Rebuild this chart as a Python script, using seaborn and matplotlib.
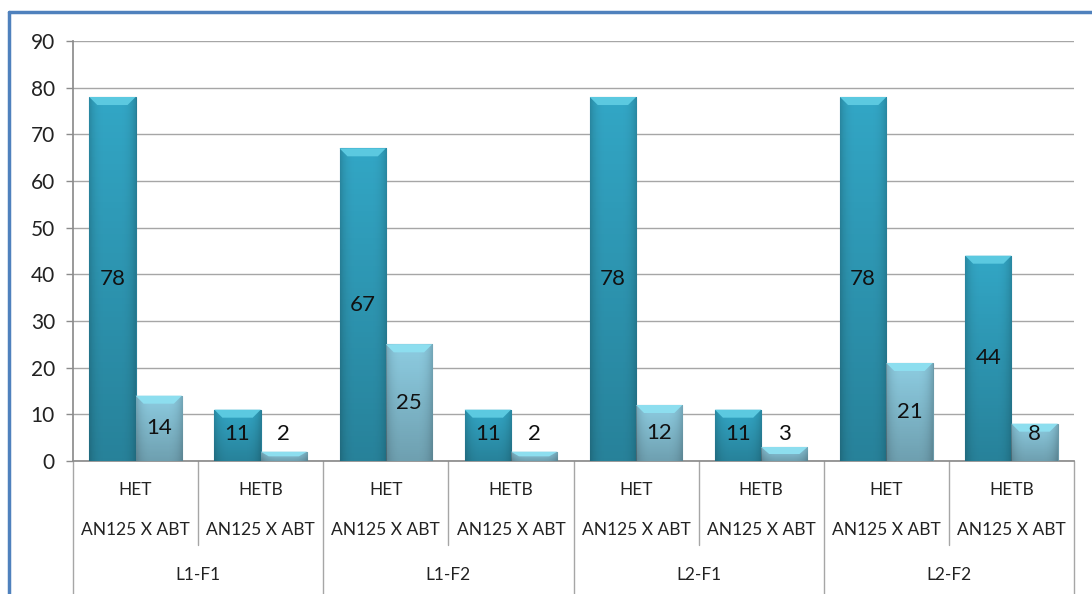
import numpy as np
import pandas as pd
import matplotlib
matplotlib.use("Agg")
import matplotlib.pyplot as plt
import seaborn as sns
from matplotlib.lines import Line2D
from matplotlib.patches import Polygon
from matplotlib.colors import to_rgb

# chart data
groups = ["L1-F1", "L1-F2", "L2-F1", "L2-F2"]
subgroups = ["HET", "HETB"]
cross_label = "AN125 X ABT"
dark_values = [78, 11, 67, 11, 78, 11, 78, 44]
light_values = [14, 2, 25, 2, 12, 3, 21, 8]
yticks = [0, 10, 20, 30, 40, 50, 60, 70, 80, 90]

dark_col = "#33A7C6"
light_col = "#8ECDE2"

keys = [g + " " + s for g in groups for s in subgroups]
df = pd.DataFrame({
    "key": keys * 2,
    "series": ["a"] * len(keys) + ["b"] * len(keys),
    "value": dark_values + light_values,
})

sns.set_theme(style="white")
plt.rcParams["font.family"] = ["Lato", "DejaVu Sans"]

fig = plt.figure(figsize=(10.92, 5.94), dpi=100)
ax = fig.add_axes([73 / 1092, 133 / 594, 1001 / 1092, 420 / 594])

sns.barplot(data=df, x="key", y="value", hue="series", order=keys,
            palette=[dark_col, light_col], width=0.74, saturation=1,
            legend=False, ax=ax, zorder=3)

ax.set_ylim(0, 90)
ax.set_xlim(-0.5, len(keys) - 0.5)
ax.set_yticks(yticks)
ax.set_yticklabels([str(t) for t in yticks], fontsize=15, color="#222222")
ax.tick_params(axis="y", length=5, width=1, color="#8c8c8c", pad=8, left=True)
ax.tick_params(axis="x", bottom=False, labelbottom=False)
ax.set_xlabel("")
ax.set_ylabel("")
ax.yaxis.grid(True, color="#a6a6a6", lw=1)
ax.set_axisbelow(True)
for s in ["top", "right"]:
    ax.spines[s].set_visible(False)
ax.spines["left"].set_color("#8c8c8c")
ax.spines["bottom"].set_color("#8c8c8c")

# bevel look: gradient body and lighter top cap
px_y = 90 / 420
px_x = len(keys) / 1001
grad = np.linspace(0, 1, 64).reshape(1, -1)
for bar in ax.patches:
    x0, w, h = bar.get_x(), bar.get_width(), bar.get_height()
    if h <= 0:
        continue
    base = np.array(to_rgb(bar.get_facecolor()))
    edge = np.abs(grad - 0.5) * 2
    shade = 1 - 0.18 * edge ** 4
    img = base[None, None, :] * shade[..., None]
    im = ax.imshow(img, extent=[x0, x0 + w, 0, h], aspect="auto",
                   zorder=3.5, interpolation="bilinear")
    im.set_clip_path(bar)
    # darker towards the bottom
    alpha = np.linspace(0.22, 0.0, 64).reshape(-1, 1)
    ax.imshow(np.dstack([np.zeros((64, 1, 3)), alpha]), origin="lower",
              extent=[x0, x0 + w, 0, h], aspect="auto", zorder=3.55,
              interpolation="bilinear")
    cap = min(8 * px_y, h * 0.5)
    inset = min(8 * px_x, w / 3)
    top_col = base * 0.55 + np.array([0.55, 0.95, 1.0]) * 0.45
    ax.add_patch(Polygon([[x0, h], [x0 + w, h], [x0 + w - inset, h - cap],
                          [x0 + inset, h - cap]], closed=True,
                         facecolor=np.clip(top_col, 0, 1), edgecolor="none",
                         zorder=3.6))
    bar.set_edgecolor((base * 0.75).tolist())
    bar.set_linewidth(0.8)

# value labels
for bar, val in zip(ax.patches, dark_values + light_values):
    cx = bar.get_x() + bar.get_width() / 2
    ax.text(cx, max(val / 2, 5.7), str(val), ha="center", va="center",
            fontsize=16, color="#111111", zorder=5)

# multi-level category axis
tr = ax.get_xaxis_transform()
for i, k in enumerate(keys):
    sub = subgroups[i % 2]
    ax.text(i, -0.069, sub, transform=tr, ha="center", va="center",
            fontsize=12.5, color="#222222")
    ax.text(i, -0.164, cross_label, transform=tr, ha="center", va="center",
            fontsize=12.5, color="#222222")
for j, g in enumerate(groups):
    ax.text(2 * j + 0.5, -0.271, g, transform=tr, ha="center", va="center",
            fontsize=12.5, color="#222222")
for i in range(len(keys) + 1):
    xb = i - 0.5
    y_end = -0.34 if i % 2 == 0 else -0.200
    ax.add_line(Line2D([xb, xb], [0, y_end], transform=tr, color="#a6a6a6",
                       lw=1, clip_on=False))

# blue frame on left and top
frame = "#4F81BD"
fig.add_artist(Line2D([9 / 1092, 9 / 1092], [0, 1 - 12 / 594], color=frame, lw=2.5))
fig.add_artist(Line2D([9 / 1092, 1], [1 - 12 / 594, 1 - 12 / 594], color=frame, lw=2.5))

fig.savefig("out.png", dpi=100, facecolor="white")
